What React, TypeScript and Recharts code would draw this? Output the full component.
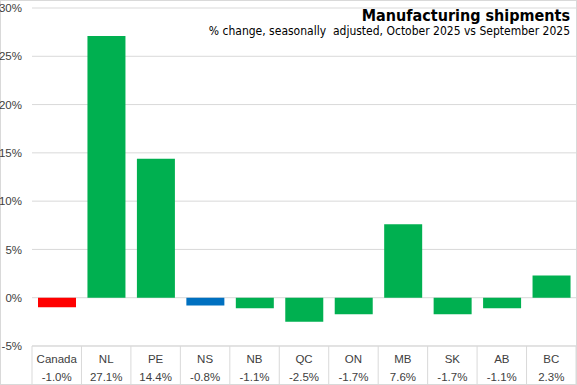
import { BarChart, Bar, XAxis, YAxis, CartesianGrid, Cell } from "recharts";

const regions = ["Canada", "NL", "PE", "NS", "NB", "QC", "ON", "MB", "SK", "AB", "BC"];
const changes = [-1.0, 27.1, 14.4, -0.8, -1.1, -2.5, -1.7, 7.6, -1.7, -1.1, 2.3];
const yTicks = [-5, 0, 5, 10, 15, 20, 25, 30];

const W = 577;
const H = 385;
const Y_AXIS_W = 32;
const BAND = (W - Y_AXIS_W - 1) / regions.length;

const data = regions.map((r, i) => ({ region: r, change: changes[i] }));

const colorFor = (r: string) =>
  r === "Canada" ? "#ff0000" : r === "NS" ? "#0070c0" : "#00b050";

const fmt = (v: number) => `${v.toFixed(1)}%`;

function CategoryTick(props: any) {
  const { x, y, payload, index } = props;
  const value = changes[index];
  return (
    <g>
      <line x1={x - BAND / 2} y1={y} x2={x - BAND / 2} y2={H} stroke="#d9d9d9" />
      {index === regions.length - 1 && (
        <line x1={x + BAND / 2} y1={y} x2={x + BAND / 2} y2={H} stroke="#d9d9d9" />
      )}
      <text x={x} y={y + 17} textAnchor="middle" fontSize={11.5} fill="#404040">
        {payload.value}
      </text>
      <text x={x} y={y + 35} textAnchor="middle" fontSize={11.5} fill="#404040">
        {fmt(value)}
      </text>
    </g>
  );
}

export default function App() {
  return (
    <div
      style={{
        position: "fixed",
        top: 0,
        left: 0,
        width: W,
        height: H,
        boxSizing: "border-box",
        border: "1px solid #d9d9d9",
        background: "#fff",
        fontFamily: "'Liberation Sans', Arial, sans-serif",
      }}
    >
      <div style={{ position: "absolute", top: -1, left: -1 }}>
        <BarChart
          width={W}
          height={H}
          data={data}
          margin={{ top: 8, right: 1, left: 0, bottom: 0 }}
        >
          <CartesianGrid vertical={false} stroke="#d9d9d9" />
          <YAxis
            width={Y_AXIS_W}
            domain={[-5, 30]}
            ticks={yTicks}
            tickFormatter={(v: number) => `${v}%`}
            axisLine={false}
            tickLine={false}
            tick={{ fill: "#404040", fontSize: 11.5 }}
            tickMargin={4}
          />
          <XAxis
            dataKey="region"
            height={39}
            axisLine={{ stroke: "#d9d9d9" }}
            tickLine={false}
            tickSize={0}
            tickMargin={0}
            interval={0}
            tick={<CategoryTick />}
          />
          <Bar dataKey="change" barSize={38} isAnimationActive={false}>
            {data.map((d) => (
              <Cell key={d.region} fill={colorFor(d.region)} />
            ))}
          </Bar>
        </BarChart>
      </div>
      <div
        style={{
          position: "absolute",
          right: 6,
          top: 6,
          textAlign: "right",
          fontFamily: "'Liberation Sans Narrow', 'DejaVu Sans Condensed', sans-serif",
          color: "#000",
          lineHeight: 1.15,
        }}
      >
        <div style={{ fontWeight: 700, fontSize: 16 }}>Manufacturing shipments</div>
        <div style={{ fontSize: 12 }}>
          % change, seasonally&nbsp; adjusted, October 2025 vs September 2025
        </div>
      </div>
    </div>
  );
}
